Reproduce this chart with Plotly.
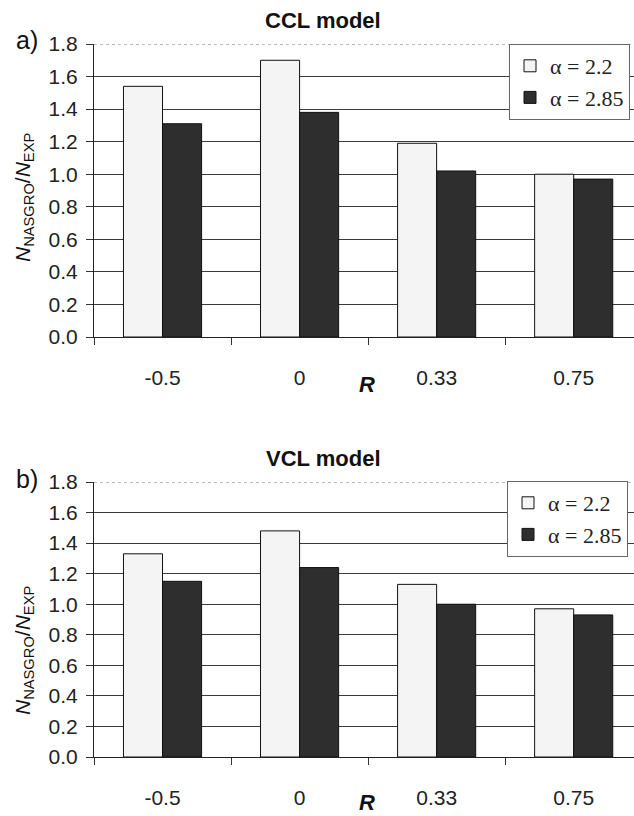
import plotly.graph_objects as go

# Stress ratios R and NASGRO / experiment life ratios for two alpha values
R_labels = ["-0.5", "0", "0.33", "0.75"]
ccl_a22 = [1.54, 1.70, 1.19, 1.00]
ccl_a285 = [1.31, 1.38, 1.02, 0.97]
vcl_a22 = [1.33, 1.48, 1.13, 0.97]
vcl_a285 = [1.15, 1.24, 1.00, 0.93]
y_ticks = [0.0, 0.2, 0.4, 0.6, 0.8, 1.0, 1.2, 1.4, 1.6, 1.8]
series_names = ["α = 2.2", "α = 2.85"]
panel_titles = ["CCL model", "VCL model"]
panel_letters = ["a)", "b)"]

W, H = 634, 816
LIGHT = "#f4f4f4"
DARK = "#2e2e2e"

fig = go.Figure()

panels = [
    (ccl_a22, ccl_a285, "x", "y", "legend"),
    (vcl_a22, vcl_a285, "x2", "y2", "legend2"),
]
for vals_a, vals_b, xa, ya, lg in panels:
    fig.add_trace(go.Bar(
        x=R_labels, y=vals_a, name=series_names[0], xaxis=xa, yaxis=ya,
        marker=dict(color=LIGHT, line=dict(color="#111", width=1)),
        legend=lg, legendgroup=lg + "a",
    ))
    fig.add_trace(go.Bar(
        x=R_labels, y=vals_b, name=series_names[1], xaxis=xa, yaxis=ya,
        marker=dict(color=DARK, line=dict(color="#111", width=1)),
        legend=lg, legendgroup=lg + "b",
    ))

def px_x(p):
    return p / W

def px_y(p):
    return 1 - p / H

x_dom = [px_x(94), 1.0]
top_dom = [px_y(337), px_y(44)]
bot_dom = [px_y(757), px_y(482)]

tick_font = dict(family="Liberation Sans, Arial", size=21, color="#222")

def xaxis_cfg(anchor):
    return dict(
        domain=x_dom, anchor=anchor, type="category", automargin=False,
        categoryorder="array", categoryarray=R_labels,
        range=[-0.5, 3.44], showgrid=False, zeroline=False,
        showline=True, linecolor="#222", linewidth=1.2,
        ticks="outside", tickson="boundaries", ticklen=7, tickcolor="#333",
        tickfont=tick_font, ticklabelstandoff=22,
    )

def yaxis_cfg(anchor, dom):
    return dict(
        domain=dom, anchor=anchor, range=[0, 1.8], automargin=False,
        tickvals=y_ticks, ticktext=[f"{v:.1f}" for v in y_ticks],
        showgrid=True, gridcolor="#3a3a3a", gridwidth=1, zeroline=False,
        showline=True, linecolor="#222", linewidth=1.2,
        ticks="outside", ticklen=7, tickcolor="#333",
        tickfont=tick_font, ticklabelstandoff=4,
    )

legend_cfg = dict(
    xanchor="left", yanchor="top", bgcolor="white",
    bordercolor="#666", borderwidth=1,
    font=dict(family="Liberation Serif, Times New Roman", size=22, color="#222"),
    tracegroupgap=14, traceorder="normal",
)

fig.update_layout(
    width=W, height=H, margin=dict(l=0, r=0, t=0, b=0, autoexpand=False),
    paper_bgcolor="white", plot_bgcolor="white",
    barmode="group", bargap=0.43, bargroupgap=0.0,
    xaxis=xaxis_cfg("y"), yaxis=yaxis_cfg("x", top_dom),
    xaxis2=xaxis_cfg("y2"), yaxis2=yaxis_cfg("x2", bot_dom),
    legend=dict(x=px_x(509), y=px_y(44), **legend_cfg),
    legend2=dict(x=px_x(507), y=px_y(481), **legend_cfg),
    showlegend=True,
)

# dotted frame line along the top of each plot area
for ya in ("y", "y2"):
    fig.add_shape(type="line", xref="paper", yref=ya,
                  x0=x_dom[0], x1=1.0, y0=1.8, y1=1.8,
                  line=dict(color="white", width=2), layer="above")
    fig.add_shape(type="line", xref="paper", yref=ya,
                  x0=x_dom[0], x1=1.0, y0=1.8, y1=1.8,
                  line=dict(color="#777", width=1, dash="dot"), layer="above")

title_font = dict(family="Liberation Sans, Arial", size=22, color="#111")
ylab = "<i>N</i><sub>NASGRO</sub>/<i>N</i><sub>EXP</sub>"
ann = []
for title, letter, ty, ly, yl, ry in (
    (panel_titles[0], panel_letters[0], 20, 40, 198, 384),
    (panel_titles[1], panel_letters[1], 458, 479, 651, 802),
):
    ann.append(dict(text=f"<b>{title}</b>", x=px_x(323), y=px_y(ty),
                    xref="paper", yref="paper", showarrow=False,
                    xanchor="center", yanchor="middle", font=title_font))
    ann.append(dict(text=letter, x=px_x(27), y=px_y(ly),
                    xref="paper", yref="paper", showarrow=False,
                    xanchor="center", yanchor="middle",
                    font=dict(family="Liberation Sans, Arial", size=25, color="#111")))
    ann.append(dict(text=ylab, x=px_x(24), y=px_y(yl), textangle=-90,
                    xref="paper", yref="paper", showarrow=False,
                    xanchor="center", yanchor="middle",
                    font=dict(family="Liberation Sans, Arial", size=21, color="#111")))
    ann.append(dict(text="<b><i>R</i></b>", x=px_x(367), y=px_y(ry),
                    xref="paper", yref="paper", showarrow=False,
                    xanchor="center", yanchor="middle",
                    font=dict(family="Liberation Sans, Arial", size=22, color="#111")))
fig.update_layout(annotations=ann)

fig.write_html("out.html")
